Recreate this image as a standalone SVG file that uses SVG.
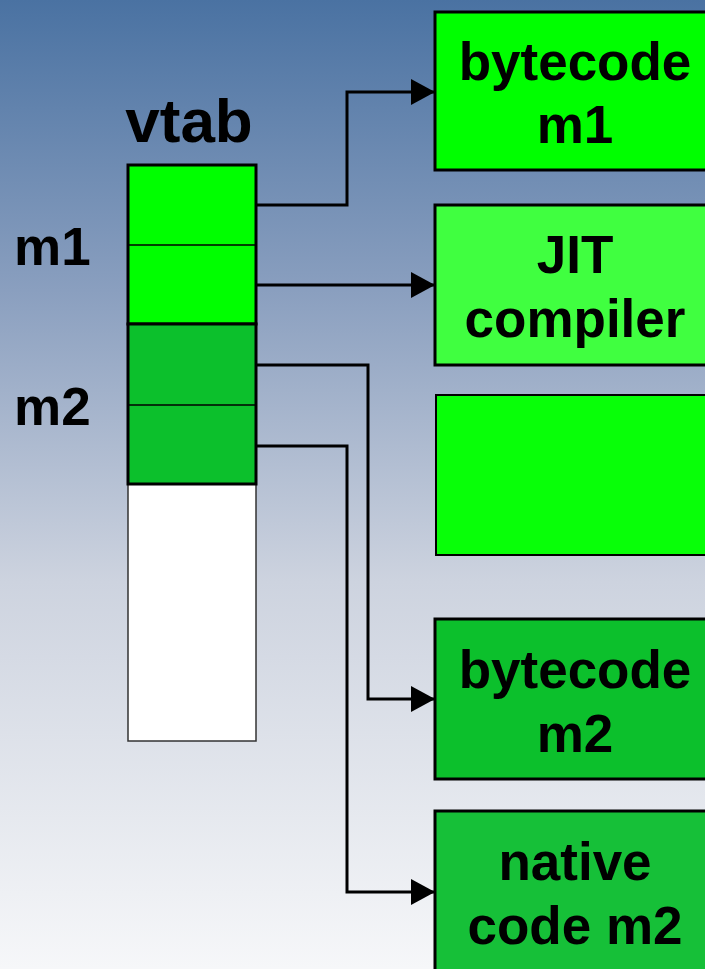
<svg xmlns="http://www.w3.org/2000/svg" width="705" height="969" viewBox="0 0 705 969">
<defs>
<linearGradient id="bg" x1="0" y1="0" x2="0" y2="1">
<stop offset="0" stop-color="#4a72a2"/>
<stop offset="0.3" stop-color="#8a9fbf"/>
<stop offset="0.6" stop-color="#cdd3df"/>
<stop offset="1" stop-color="#f6f7f9"/>
</linearGradient>
<marker id="arr" viewBox="0 0 24 26" refX="24" refY="13" markerWidth="24" markerHeight="26" markerUnits="userSpaceOnUse" orient="auto">
<path d="M0,0 L24,13 L0,26 z" fill="#000"/>
</marker>
</defs>
<style>
.t{font-family:"Liberation Sans",Arial,sans-serif;font-weight:bold;font-size:53px;fill:#000}
.box{stroke:#000;stroke-width:3}
.conn{fill:none;stroke:#000;stroke-width:3;marker-end:url(#arr)}
</style>
<rect x="0" y="0" width="705" height="969" fill="url(#bg)"/>

<g id="vtab">
<text class="t" x="189" y="142" text-anchor="middle" style="font-size:62px">vtab</text>
<rect x="128" y="484" width="128" height="257" fill="#fff" stroke="#333" stroke-width="1.5"/>
<rect x="128" y="165" width="128" height="159" fill="#00ff00" class="box"/>
<line x1="128" y1="245" x2="256" y2="245" stroke="#000" stroke-width="1.5"/>
<rect x="128" y="324" width="128" height="160" fill="#0cc02c" class="box"/>
<line x1="128" y1="405" x2="256" y2="405" stroke="#000" stroke-width="1.5"/>
</g>
<g id="label-m1"><text class="t" x="14" y="265">m1</text></g>
<g id="label-m2"><text class="t" x="14" y="425">m2</text></g>

<g id="bytecode-m1">
<rect x="435" y="12" width="290" height="158" fill="#00ff00" class="box"/>
<text class="t" x="575" y="80" text-anchor="middle">bytecode</text>
<text class="t" x="575" y="143" text-anchor="middle">m1</text>
</g>
<g id="jit-compiler">
<rect x="435" y="205" width="290" height="160" fill="#40ff40" class="box"/>
<text class="t" x="575" y="273" text-anchor="middle">JIT</text>
<text class="t" x="575" y="337" text-anchor="middle">compiler</text>
</g>
<g id="empty">
<rect x="436" y="395" width="290" height="160" fill="#08ff08" stroke="#000" stroke-width="2"/>
</g>
<g id="bytecode-m2">
<rect x="435" y="619" width="290" height="160" fill="#0cc02c" class="box"/>
<text class="t" x="575" y="688" text-anchor="middle">bytecode</text>
<text class="t" x="575" y="752" text-anchor="middle">m2</text>
</g>
<g id="native-code-m2">
<rect x="435" y="811" width="290" height="180" fill="#16c038" class="box"/>
<text class="t" x="575" y="880" text-anchor="middle">native</text>
<text class="t" x="575" y="944" text-anchor="middle">code m2</text>
</g>

<g id="connectors">
<path class="conn" d="M256,205 H347 V92 H435"/>
<path class="conn" d="M256,285 H435"/>
<path class="conn" d="M256,365 H368 V699 H435"/>
<path class="conn" d="M256,446 H347 V892 H435"/>
</g>
</svg>
